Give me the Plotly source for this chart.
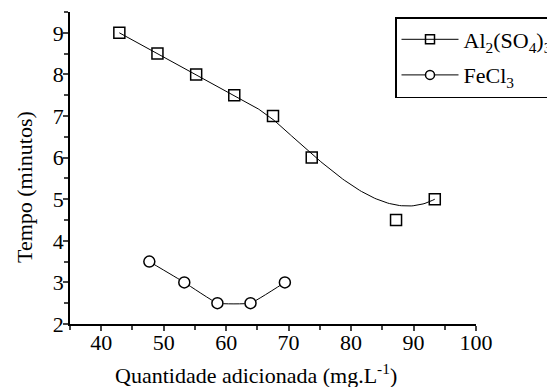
import numpy as np
import plotly.graph_objects as go

# Data
al_x = [42.9, 49.0, 55.2, 61.3, 67.5, 73.7, 87.2, 93.4]
al_y = [9.0, 8.5, 8.0, 7.5, 7.0, 6.0, 4.5, 5.0]
fe_x = [47.7, 53.3, 58.6, 63.9, 69.4]
fe_y = [3.5, 3.0, 2.5, 2.5, 3.0]
x_ticks = [40, 50, 60, 70, 80, 90, 100]
y_ticks = [2, 3, 4, 5, 6, 7, 8, 9]


def bspline(px, py, n=300, k=3):
    """Clamped uniform B-spline using the data points as control points."""
    P = np.column_stack([px, py]).astype(float)
    m = len(P)
    inner = np.arange(1, m - k)
    knots = np.concatenate([np.zeros(k + 1), inner, np.full(k + 1, m - k)]).astype(float)
    ts = np.linspace(0, m - k, n)
    out = []
    for t in ts:
        N = np.zeros(len(knots) - 1)
        for i in range(len(knots) - 1):
            if knots[i] <= t < knots[i + 1]:
                N[i] = 1.0
        if t >= knots[-1]:
            N[m - 1] = 1.0
        for d in range(1, k + 1):
            Nn = np.zeros(len(knots) - 1 - d)
            for i in range(len(Nn)):
                a = 0.0
                if knots[i + d] != knots[i]:
                    a = (t - knots[i]) / (knots[i + d] - knots[i]) * N[i]
                b = 0.0
                if knots[i + d + 1] != knots[i + 1]:
                    b = (knots[i + d + 1] - t) / (knots[i + d + 1] - knots[i + 1]) * N[i + 1]
                Nn[i] = a + b
            N = Nn
        out.append(N[:m] @ P)
    out = np.array(out)
    return out[:, 0], out[:, 1]


sx, sy = bspline(al_x, al_y)

FONT = "Liberation Serif, Times New Roman, serif"
# page body has an 8px margin, so the figure is 8px smaller on each axis
W, H = 547, 379
ML, MR, MT, MB = 62, 79, 4, 63

fig = go.Figure()

fig.add_trace(go.Scatter(x=sx, y=sy, mode="lines", line=dict(color="black", width=1),
                         showlegend=False, hoverinfo="skip"))
fig.add_trace(go.Scatter(x=al_x, y=al_y, mode="markers", showlegend=False,
                         marker=dict(symbol="square-open", size=11, color="black",
                                     line=dict(width=1.5))))
fig.add_trace(go.Scatter(x=fe_x, y=fe_y, mode="lines+markers", showlegend=False,
                         line=dict(color="black", width=1, shape="spline", smoothing=0.3),
                         marker=dict(symbol="circle", size=11, color="white",
                                     line=dict(width=1.5, color="black"))))

# legend entries
fig.add_trace(go.Scatter(x=[None], y=[None], mode="lines+markers", legendgroup="a",
                         name="Al<sub>2</sub>(SO<sub>4</sub>)<sub>3</sub>",
                         line=dict(color="black", width=1),
                         marker=dict(symbol="square-open", size=9, color="black",
                                     line=dict(width=1.5))))
fig.add_trace(go.Scatter(x=[None], y=[None], mode="lines+markers", legendgroup="b",
                         name="FeCl<sub>3</sub>",
                         line=dict(color="black", width=1),
                         marker=dict(symbol="circle", size=9, color="white",
                                     line=dict(width=1.5, color="black"))))

plot_h = H - MT - MB
plot_w = W - ML - MR

fig.update_layout(
    width=W, height=H,
    margin=dict(l=ML, r=MR, t=MT, b=MB, autoexpand=False),
    paper_bgcolor="white", plot_bgcolor="white",
    font=dict(family=FONT, size=20, color="black"),
    showlegend=True,
    legend=dict(x=(395 - 70) / plot_w, y=(324 - 17) / plot_h,
                xanchor="left", yanchor="top",
                bordercolor="black", borderwidth=1.5, bgcolor="white",
                font=dict(family=FONT, size=22), itemwidth=57,
                tracegroupgap=4),
    xaxis=dict(range=[35, 100], tickvals=x_ticks, ticks="outside", ticklen=5, tickwidth=1.5,
               showline=True, linecolor="black", linewidth=1.5, showgrid=False, zeroline=False,
               tickfont=dict(size=22), ticklabelstandoff=-7,
               minor=dict(dtick=5, ticks="outside", ticklen=4, tickwidth=1.5, showgrid=False)),
    yaxis=dict(range=[2, 9.5], tickvals=y_ticks, ticks="outside", ticklen=5, tickwidth=1.5,
               showline=True, linecolor="black", linewidth=1.5, showgrid=False, zeroline=False,
               tickfont=dict(size=22), ticklabelstandoff=-5,
               minor=dict(dtick=0.5, ticks="outside", ticklen=4, tickwidth=1.5, showgrid=False)),
    annotations=[
        dict(text="Quantidade adicionada (mg.L<sup>-1</sup>)", xref="paper", yref="paper",
             x=(256 - 70) / plot_w, y=-(374 - 324) / plot_h, xanchor="center", yanchor="middle",
             showarrow=False, font=dict(family=FONT, size=22)),
        dict(text="Tempo (minutos)", xref="paper", yref="paper", textangle=-90,
             x=-(70 - 24) / plot_w, y=(324 - 187) / plot_h, xanchor="center", yanchor="middle",
             showarrow=False, font=dict(family=FONT, size=22)),
    ],
)

fig.write_html("out.html")
